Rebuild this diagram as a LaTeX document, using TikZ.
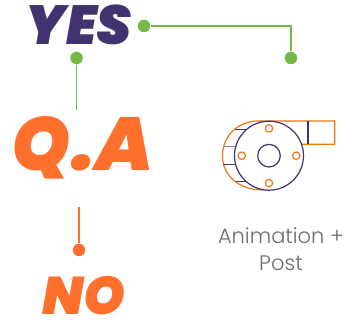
\documentclass[tikz,border=0pt]{standalone}
\usepackage{fontspec}
\setmainfont{Poppins Light}
\newfontfamily\heavyfont{Poppins Black Italic}
\usetikzlibrary{positioning, calc}
\definecolor{cY}{RGB}{66,51,112}
\definecolor{cO}{RGB}{255,112,44}
\definecolor{cG}{RGB}{116,184,72}
\definecolor{cL}{RGB}{235,120,20}
\definecolor{cT}{RGB}{110,110,110}

\tikzset{
    dot/.style={circle, inner sep=0pt, minimum size=12.5pt},
    bigword/.style={inner sep=0pt, font=\heavyfont\fontsize{#1}{#1}\selectfont},
    hole/.style={circle, draw=cL, line width=1.2pt, inner sep=0pt, minimum size=7.4pt},
}

\begin{document}
\begin{tikzpicture}[x=1pt, y=-1pt, on grid, line width=1.8pt]
    \useasboundingbox (0,0) rectangle (346,320);

    \node[bigword=55, text=cY] (Yes) at (79,25) {YES};
    \node[bigword=75, text=cO] (Qa) at (82.5,148) {Q.A};
    \node[bigword=53, text=cO] (No) at (84,296) {NO};

    \node[dot, fill=cG] (D1) at (144,26) {};
    \node[dot, fill=cG] (D2) [below=32pt of D1, xshift=147pt] {};
    \node[dot, fill=cG] (D3) at (76.5,58) {};
    \node[dot, fill=cO] (D4) at (79,250) {};
    \coordinate (E3) at (76.5,110);
    \coordinate (E4) at (79,207);

    \draw[cG] (D1) -| (D2);
    \draw[cG] (D3) -- (E3);
    \draw[cO] (D4) -- (E4);

    % fan
    \coordinate (C) at (269,155.7);
    \draw[cL, line width=1.2pt] (263,190) .. controls (238,190) and (222.5,175) .. (222.5,155.7)
        .. controls (222.5,136) and (238,121) .. (258,121) -- (334.7,121) -- (334.7,144.3) -- (302,144.3);
    \draw[cY, line width=1.2pt] (308,121) -- (308,144.3);
    \draw[cY, line width=1.2pt] (235,129.3) -- (247,129.3);
    \draw[cY!60, line width=1.2pt] (223,146.7) -- (236,146.7);
    \draw[cY, line width=1.2pt] (223,164.3) -- (236,164.3);
    \draw[cY, line width=1.2pt] (236,181.7) -- (247,181.7);
    \node[circle, draw=cY, fill=white, line width=1.2pt, inner sep=0pt, minimum size=69pt] (Fan) at (C) {};
    \node[circle, draw=cY, line width=1.2pt, inner sep=0pt, minimum size=22.6pt] (Hub) at (C) {};
    \node[hole] (H1) [above=23pt of Fan.center] {};
    \node[hole] (H2) [below=23pt of Fan.center] {};
    \node[hole] (H3) [left=23pt of Fan.center] {};
    \node[hole] (H4) [right=23pt of Fan.center] {};

    \node[text=cT, align=center, inner sep=0pt, font=\fontsize{21}{27}\selectfont] (Txt) at (281,249.5) {Animation +\\Post};
\end{tikzpicture}
\end{document}
